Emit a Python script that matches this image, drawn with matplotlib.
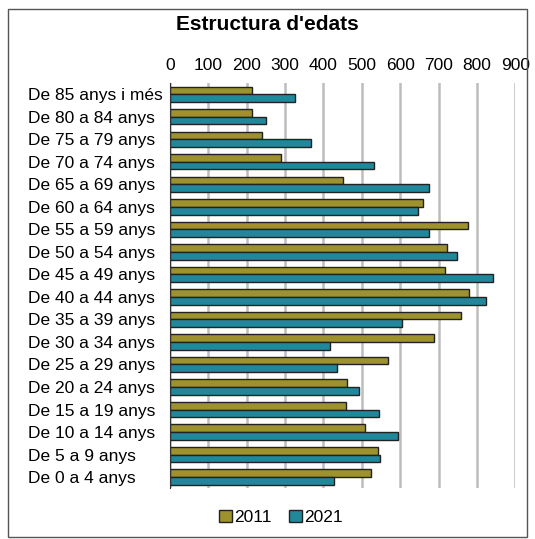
import matplotlib
matplotlib.use('Agg')
from matplotlib import pyplot as plt
from matplotlib.patches import Rectangle
import numpy as np

plt.rcParams['font.family'] = ['Liberation Sans', 'DejaVu Sans']

# age groups, top to bottom as in the chart
groups = ['De 85 anys i més', 'De 80 a 84 anys', 'De 75 a 79 anys',
          'De 70 a 74 anys', 'De 65 a 69 anys', 'De 60 a 64 anys',
          'De 55 a 59 anys', 'De 50 a 54 anys', 'De 45 a 49 anys',
          'De 40 a 44 anys', 'De 35 a 39 anys', 'De 30 a 34 anys',
          'De 25 a 29 anys', 'De 20 a 24 anys', 'De 15 a 19 anys',
          'De 10 a 14 anys', 'De 5 a 9 anys', 'De 0 a 4 anys']
pop_2011 = [214, 213, 239, 290, 451, 660, 776, 723, 717, 780, 758, 689,
            568, 461, 458, 507, 542, 523]
pop_2021 = [326, 250, 368, 532, 676, 647, 676, 748, 843, 823, 605, 418,
            434, 492, 546, 594, 547, 427]
xticks = [0, 100, 200, 300, 400, 500, 600, 700, 800, 900]

c2011 = '#9E922E'
c2021 = '#21879B'

fig = plt.figure(figsize=(5.35, 5.39), dpi=100)
ax = fig.add_axes([0.318, 0.094, 0.645, 0.752])

y = np.arange(len(groups))
h = 0.34
ax.barh(y - h / 2, pop_2011, height=h, color=c2011, edgecolor='#222222',
        linewidth=1, label='2011', zorder=3)
ax.barh(y + h / 2, pop_2021, height=h, color=c2021, edgecolor='#222222',
        linewidth=1, label='2021', zorder=3)

ax.set_ylim(len(groups) - 0.5, -0.5)
ax.set_xlim(0, 900)
ax.set_yticks(y)
ax.set_yticklabels(groups, fontsize=12.5, ha='left')
ax.set_xticks(xticks)
ax.xaxis.tick_top()
ax.tick_params(axis='x', labelsize=12.5, length=0, pad=7)
# left-aligned labels starting near the left border
ax.tick_params(axis='y', length=0, pad=102)
ax.grid(axis='x', color='#bdbdbd', linewidth=1.8, zorder=0)
for s in ['top', 'right', 'bottom']:
    ax.spines[s].set_visible(False)
ax.spines['left'].set_color('#333333')
ax.spines['left'].set_zorder(4)

fig.text(0.5, 0.955, "Estructura d'edats", ha='center', va='center',
         fontsize=15, fontweight='bold')

leg = fig.legend(loc='center', bbox_to_anchor=(0.525, 0.04), ncol=2,
                 frameon=False, fontsize=12.5, handlelength=0.75,
                 handleheight=0.75, handletextpad=0.15, columnspacing=1.0)

fig.patches.append(Rectangle((8 / 535, 2 / 539), 519 / 535, 528 / 539,
                             transform=fig.transFigure, fill=False,
                             edgecolor='#555555', linewidth=1))

fig.savefig('out.png', dpi=100)
